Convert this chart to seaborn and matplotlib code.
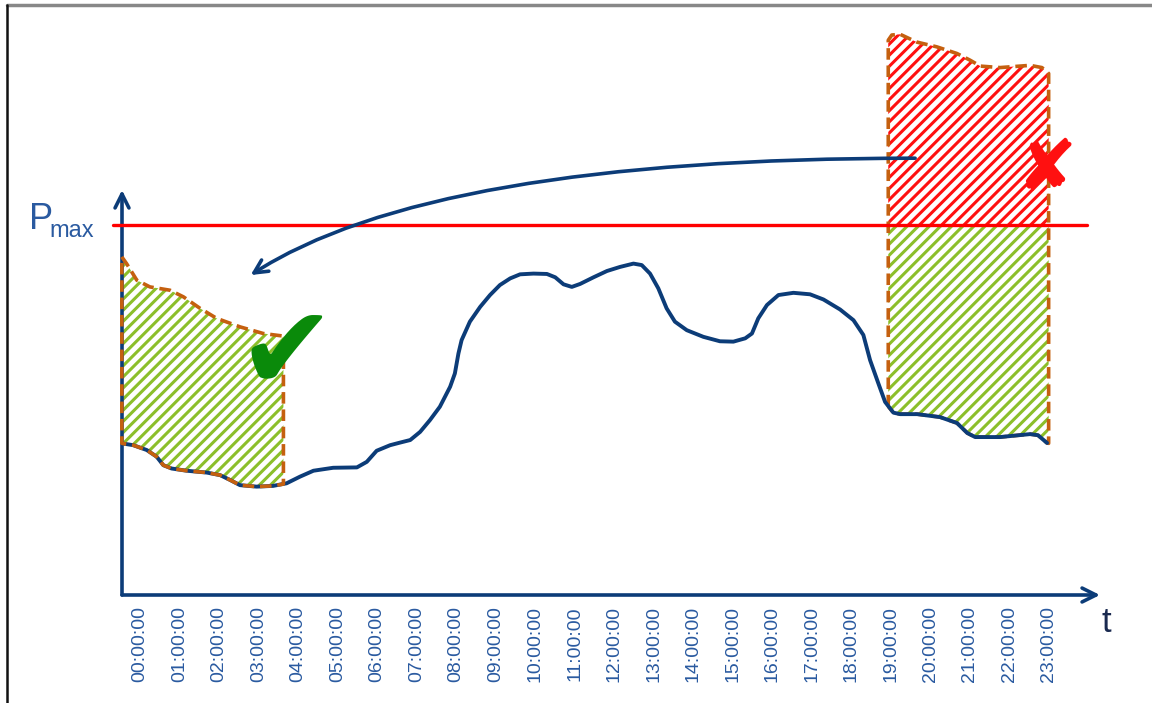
import numpy as np
import pandas as pd
import matplotlib.pyplot as plt
import seaborn as sns

# hours on the x axis, load in arbitrary units (Pmax = 100)
hour_labels = ['%02d:00:00' % h for h in range(24)]
hour_ticks = list(range(24))
p_max = 100

# load curve
load_t = [-0.46, -0.17, 0.17, 0.42, 0.59, 0.80, 1.18, 1.69, 2.03, 2.28, 2.53, 2.95,
          3.37, 3.71, 4.05, 4.39, 4.89, 5.49, 5.74, 5.99, 6.33, 6.58, 6.84,
          7.09, 7.34, 7.59, 7.85, 7.97, 8.06, 8.14, 8.35, 8.61, 8.86, 9.11, 9.37,
          9.62, 9.96, 10.30, 10.51, 10.72, 10.93, 11.14, 11.48, 11.82, 12.15, 12.49,
          12.70, 12.91, 13.12, 13.33, 13.54, 13.84, 14.26, 14.68, 15.02, 15.32,
          15.49, 15.65, 15.87, 16.16, 16.54, 16.96, 17.30, 17.72, 18.06, 18.31,
          18.48, 18.69, 18.86, 19.07, 19.24, 19.67, 20.25, 20.68, 20.94, 21.14,
          21.77, 22.53, 22.73, 22.96]
load_p = [41.0, 40.5, 39.2, 37.4, 35.1, 34.2, 33.6, 33.1, 32.4, 31.1, 29.7, 29.3,
          29.5, 30.2, 32.0, 33.6, 34.4, 34.5, 36.0, 39.0, 40.5, 41.2, 41.9,
          44.1, 47.3, 50.9, 56.3, 59.9, 65.3, 68.9, 73.9, 77.9, 81.1, 83.8, 85.6,
          86.7, 86.9, 86.8, 85.9, 84.0, 83.3, 84.1, 85.9, 87.6, 88.7, 89.6,
          89.2, 86.9, 82.9, 77.5, 73.9, 71.6, 69.8, 68.6, 68.5, 69.4,
          70.7, 74.8, 78.4, 81.1, 81.7, 81.3, 79.9, 77.2, 74.3, 70.3,
          63.5, 57.2, 52.2, 49.3, 48.9, 48.9, 48.1, 46.5, 43.8, 42.7,
          42.7, 43.5, 43.2, 41.1]

# shifted block (left, fits under Pmax)
shift_t = [-0.46, -0.34, -0.08, 0.25, 0.76, 1.10, 1.52, 1.94, 2.53, 3.12, 3.63]
shift_p = [91.4, 89.6, 85.1, 83.3, 82.4, 80.6, 77.5, 74.8, 72.5, 70.7, 70.0]
shift_end_p = 30.0

# original block (right, exceeds Pmax)
peak_t = [18.94, 19.03, 19.24, 19.66, 20.17, 20.68, 21.01, 21.27, 21.77, 22.53, 22.83, 23.0]
peak_p = [150.0, 151.4, 151.6, 149.5, 148.2, 146.4, 144.6, 143.0, 142.6, 143.2, 142.6, 141.0]
peak_start_p = 51.0
peak_end_p = 41.0

navy = '#0c3c78'
label_blue = '#2a5aa0'
hatch_green = '#8cbf2a'
outline = '#c5600f'

sns.set_theme(style='white')
plt.rcParams['font.family'] = ['Liberation Sans', 'DejaVu Sans']
plt.rcParams['hatch.linewidth'] = 2.2

fig = plt.figure(figsize=(11.52, 7.03), dpi=100)
ax = fig.add_axes([122 / 1152, 108 / 703, 978 / 1152, 405 / 703])
ax.set_xlim(-0.456, 24.3)
ax.set_ylim(0, 109.5)

# frame of the slide
fig.add_artist(plt.Line2D([7 / 1152, 1], [1 - 5 / 703, 1 - 5 / 703], color='#888888', lw=2.5))
fig.add_artist(plt.Line2D([7 / 1152, 7 / 1152], [0, 1 - 5 / 703], color='#111111', lw=1.8))

# left block: polygon between its top line and the load curve
mask_l = [(t >= shift_t[0]) and (t <= shift_t[-1]) for t in load_t]
bot_t = [t for t, m in zip(load_t, mask_l) if m]
bot_p = [p for p, m in zip(load_p, mask_l) if m]
poly_t = shift_t + [shift_t[-1]] + bot_t[::-1]
poly_p = shift_p + [shift_end_p] + bot_p[::-1]
ax.fill(poly_t, poly_p, facecolor='none', edgecolor=hatch_green, hatch='///', lw=0, clip_on=False, zorder=2)
ax.plot(poly_t + [poly_t[0]], poly_p + [poly_p[0]], color=outline, lw=2.6,
        dashes=(3.2, 1.6), clip_on=False, zorder=5)

# right block split at Pmax
mask_r = [(t >= peak_t[0]) and (t <= peak_t[-1]) for t in load_t]
rb_t = [t for t, m in zip(load_t, mask_r) if m]
rb_p = [p for p, m in zip(load_p, mask_r) if m]
red_t = peak_t + [peak_t[-1], peak_t[0]]
red_p = peak_p + [p_max, p_max]
ax.fill(red_t, red_p, facecolor='none', edgecolor='#ff1010', hatch='///', lw=0, clip_on=False, zorder=2)
grn_t = [peak_t[0], peak_t[-1], peak_t[-1]] + rb_t[::-1] + [peak_t[0]]
grn_p = [p_max, p_max, peak_end_p] + rb_p[::-1] + [peak_start_p]
ax.fill(grn_t, grn_p, facecolor='none', edgecolor=hatch_green, hatch='///', lw=0, clip_on=False, zorder=2)
out_t = [peak_t[0]] + peak_t + [peak_t[-1]] + rb_t[::-1] + [peak_t[0]]
out_p = [peak_start_p] + peak_p + [peak_end_p] + rb_p[::-1] + [peak_start_p]
ax.plot(out_t, out_p, color=outline, lw=2.6, dashes=(3.2, 1.6), clip_on=False, zorder=3)

# load curve
df = pd.DataFrame({'t': load_t, 'p': load_p})
sns.lineplot(data=df, x='t', y='p', sort=False, color=navy, lw=2.8, ax=ax, zorder=4,
             solid_joinstyle='round', solid_capstyle='round')

# Pmax limit
ax.plot([-0.68, 23.97], [p_max, p_max], color='#ff0000', lw=2.4, clip_on=False, zorder=6)
ax.text(-2.8, 101.5, 'P', fontsize=26, color=label_blue, ha='left', va='center')
ax.text(-2.3, 98.3, 'max', fontsize=17, color=label_blue, ha='left', va='center')

# shifting arrow
ax.annotate('', xy=(2.8, 86.5), xytext=(19.62, 118.1),
            arrowprops=dict(arrowstyle='->', color=navy, lw=2.6, mutation_scale=24,
                            connectionstyle='angle3,angleA=0,angleB=33',
                            shrinkA=0, shrinkB=0), annotation_clip=False, zorder=7)

ax.text(3.7, 64.5, '\u2714', family='DejaVu Sans', fontsize=84, color='#0a8a0a',
        ha='center', va='center', zorder=8)
ax.text(22.95, 114.4, '\u2718', family='DejaVu Sans', fontsize=52, color='#ff1010',
        ha='center', va='center', zorder=8)

# axes with arrow heads
sns.despine(ax=ax, left=True, bottom=True)
ax.annotate('', xy=(1, 0), xytext=(0, 0), xycoords='axes fraction',
            arrowprops=dict(arrowstyle='->', color=navy, lw=2.6, mutation_scale=25, shrinkA=0, shrinkB=0))
ax.annotate('', xy=(0, 1), xytext=(0, 0), xycoords='axes fraction',
            arrowprops=dict(arrowstyle='->', color=navy, lw=2.6, mutation_scale=25, shrinkA=0, shrinkB=0))
ax.text(24.35, -7.5, 't', fontsize=25, color='#1a2a50', ha='left', va='center')

ax.set_xticks(hour_ticks)
ax.set_xticklabels(hour_labels, rotation=90, fontsize=14, color=label_blue)
ax.tick_params(axis='x', length=0, pad=8)
ax.set_yticks([])
ax.set_xlabel('')
ax.set_ylabel('')
ax.grid(False)
ax.patch.set_alpha(0)

fig.savefig('out.png', dpi=100)
